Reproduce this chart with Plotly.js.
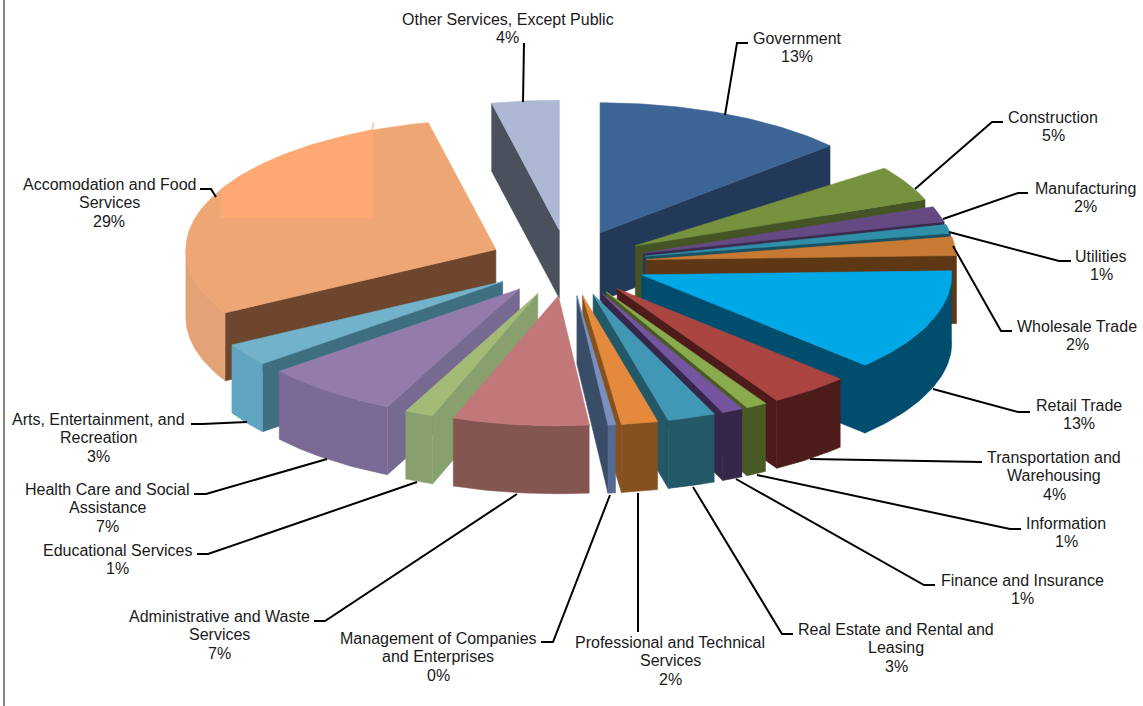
<!DOCTYPE html>
<html>
<head>
<meta charset="utf-8">
<script src="https://cdn.plot.ly/plotly-3.0.1.min.js"></script>
<style>html,body{margin:0;padding:0;background:#fff}#chart{width:1143px;height:706px}</style>
</head>
<body>
<div id="chart"></div>
<script>
// ---- data ----
const categories = ["Government","Construction","Manufacturing","Utilities","Wholesale Trade","Retail Trade",
  "Transportation and Warehousing","Information","Finance and Insurance","Real Estate and Rental and Leasing",
  "Professional and Technical Services","Management of Companies and Enterprises","Administrative and Waste Services",
  "Educational Services","Health Care and Social Assistance","Arts, Entertainment, and Recreation",
  "Accomodation and Food Services","Other Services, Except Public"];
const shares = [13.3,5.9,1.9,1.1,2.3,12.7,4.2,1.1,1.1,2.5,1.9,0.4,7.1,1.5,7.1,2.8,29.6,3.5];
const percentLabels = ["13%","5%","2%","1%","2%","13%","4%","1%","1%","3%","2%","0%","7%","1%","7%","3%","29%","4%"];
const labelLines = [["Government"],["Construction"],["Manufacturing"],["Utilities"],["Wholesale Trade"],["Retail Trade"],
  ["Transportation and","Warehousing"],["Information"],["Finance and Insurance"],["Real Estate and Rental and","Leasing"],
  ["Professional and Technical","Services"],["Management of Companies","and Enterprises"],["Administrative and Waste","Services"],
  ["Educational Services"],["Health Care and Social","Assistance"],["Arts, Entertainment, and","Recreation"],
  ["Accomodation and Food","Services"],["Other Services, Except Public"]];

// ---- style ----
const topColors  = ["#3c6494","#77923f","#644a83","#2f8fa8","#c77a34","#00a8e6","#ab4541","#8aaa4e","#7554a0","#4198b4","#e58a3d","#7890c0","#c27878","#a4bb78","#937cab","#72b3cb","#eea674","#adb9d4"];
const wallColors = ["#22395a","#445424","#3a2a4d","#1a5060","#5e3715","#004d6e","#4d1c1a","#4a5a24","#35264a","#235866","#85521f","#3a4d68","#855552","#87a06d","#776a90","#3d6f80","#6e452d","#4a505c"];
const arcColors  = ["#22395a","#445424","#3a2a4d","#1a5060","#5e3715","#004d6e","#4d1c1a","#4a5a24","#35264a","#235866","#85521f","#546a90","#855552","#87a06d","#7a6a95","#5fa5c0","#e3a377","#4a505c"];
const leaderPaths = [
  [[725,115],[737,43],[748,43]],[[915,189],[992,122],[1003,122]],[[943,219],[1018,193],[1028,193]],
  [[949,232],[1059,261],[1071,261]],[[953,246],[1001,331],[1012,331]],[[933,389],[1018,412],[1030,412]],
  [[810,459],[982,462]],[[757,475],[1010,529],[1021,529]],[[736,479],[924,585],[935,585]],
  [[693,487],[782,634],[793,634]],[[638,493],[638,632]],[[610,495],[553,642],[541,642]],
  [[517,494],[325,621],[314,621]],[[417,482],[208,554],[197,554]],[[327,459],[206,494],[194,494]],
  [[247,422],[202,424],[191,424]],[[216,197],[211,189],[200,189]],[[523,102],[524,43]]];
const labelAnchors = [[797,38],[1053,117],[1085,188],[1101,256],[1077,326],[1079,405],[1054,457],[1066,523],[1022,580],
  [896,629],[670,642],[438,638],[219,616],[117.5,550],[107.5,489],[98,419],[109,184],[507.5,19]];
// degrees trimmed off a slice's leading edge, as the picture shows a wider gap there
const startTrim = {1:5.5};

// ---- projection of the exploded 3-D pie ----
const CX=568, CY=263, RX=310, RY=130, EX=79, EY=33, DEPTH=68;
const total = shares.reduce((a,b)=>a+b,0);
let cum = 0;
const slices = shares.map((v,i)=>{
  const s = cum/total*360; cum += v; const e = cum/total*360; const m=(s+e)/2*Math.PI/180;
  return {i, s:s+(startTrim[i]||0), e, ax:CX+EX*Math.sin(m), ay:CY-EY*Math.cos(m), c:Math.cos(m)};
});
const rad = d=>d*Math.PI/180;
function edge(sl,d){ return [sl.ax+RX*Math.sin(rad(d)), sl.ay-RY*Math.cos(rad(d))]; }
function arcPts(sl,a,b){ const n=Math.max(2,Math.ceil(Math.abs(b-a))+1), p=[];
  for(let k=0;k<n;k++) p.push(edge(sl,a+(b-a)*k/(n-1))); return p; }
function poly(pts,color,name){
  return {type:'scatter',mode:'lines',x:pts.map(p=>p[0]),y:pts.map(p=>p[1]),fill:'toself',fillcolor:color,
    line:{color:color,width:0.6},hoverinfo:'skip',showlegend:false,name:name};
}
const drop = pts=>pts.map(p=>[p[0],p[1]+DEPTH]);
const traces=[];
slices.slice().sort((a,b)=>b.c-a.c).forEach(sl=>{
  const name=categories[sl.i], apex=[sl.ax,sl.ay];
  // visible radial walls
  if(Math.sin(rad(sl.s))<-1e-6){ const p=edge(sl,sl.s); traces.push(poly([apex,p,[p[0],p[1]+DEPTH],[apex[0],apex[1]+DEPTH],apex],wallColors[sl.i],name)); }
  if(Math.sin(rad(sl.e))>1e-6){ const p=edge(sl,sl.e); traces.push(poly([apex,p,[p[0],p[1]+DEPTH],[apex[0],apex[1]+DEPTH],apex],wallColors[sl.i],name)); }
  // visible outer wall
  const a=Math.max(sl.s,90), b=Math.min(sl.e,270);
  if(b>a){ const p=arcPts(sl,a,b); traces.push(poly(p.concat(drop(p).reverse()),arcColors[sl.i],name)); }
  // top face
  const top=[apex].concat(arcPts(sl,sl.s,sl.e)); top.push(apex);
  traces.push(poly(top,topColors[sl.i],name));
  // lighter rectangular patch on the largest slice, as in the picture
  if(sl.i===16){
    const clip=top.map(q=>[Math.min(373,Math.max(221,q[0])),Math.min(218,q[1])]);
    traces.push(poly(clip,"#fea974",name));
  }
});

// ---- leaders and labels ----
const shapes=[{type:'line',xref:'x',yref:'y',x0:4,x1:4,y0:0,y1:706,line:{color:'#868686',width:2}}];
leaderPaths.forEach(p=>shapes.push({type:'path',xref:'x',yref:'y',
  path:p.map((q,k)=>(k?'L':'M')+q[0]+' '+q[1]).join(' '),line:{color:'#000',width:2}}));
const annotations=[];
labelLines.forEach((lines,i)=>{
  lines.concat([percentLabels[i]]).forEach((t,k)=>{
    annotations.push({xref:'x',yref:'y',x:labelAnchors[i][0],y:labelAnchors[i][1]+k*18.6,text:t,showarrow:false,
      xanchor:'center',yanchor:'middle',font:{family:'"Liberation Sans",Arial,sans-serif',size:16,color:'#1a1a1a'}});
  });
});

Plotly.newPlot('chart',traces,{
  width:1143,height:706,margin:{l:0,r:0,t:0,b:0},paper_bgcolor:'#fff',plot_bgcolor:'#fff',showlegend:false,
  xaxis:{range:[0,1143],visible:false,fixedrange:true},
  yaxis:{range:[706,0],visible:false,fixedrange:true},
  shapes,annotations
},{staticPlot:true,displayModeBar:false});
</script>
</body>
</html>
